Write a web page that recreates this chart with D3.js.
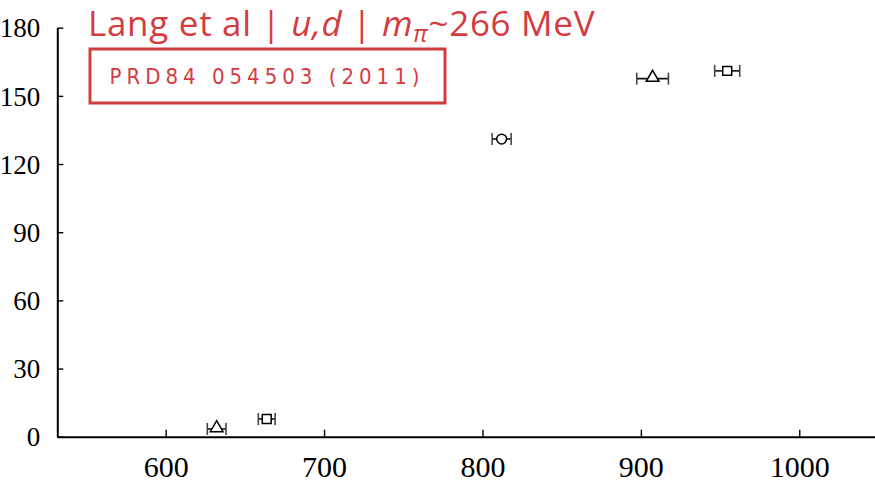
<!DOCTYPE html>
<html>
<head>
<meta charset="utf-8">
<script src="https://cdn.jsdelivr.net/npm/d3@7"></script>
<style>
  body { margin: 0; background: #fff; }
  svg { display: block; }
</style>
</head>
<body>
<svg id="chart" width="875" height="482"></svg>
<script>
// points: mass (MeV), y value, horizontal error, marker shape
const massValues = [632.2, 663.8, 812.1, 907.4, 954.5];
const yValues = [3.4, 7.8, 131, 157.6, 161];
const massErrors = [5.9, 5.3, 6.0, 10.0, 7.9];
const markerShapes = ['triangle', 'square', 'circle', 'triangle', 'square'];
const xTicks = [600, 700, 800, 900, 1000];
const yTicks = [0, 30, 60, 90, 120, 150, 180];

const red = '#d33c3f';
const svg = d3.select('#chart');

const x = d3.scaleLinear().domain([531.6, 1047.8]).range([57.3, 875]);
const y = d3.scaleLinear().domain([0, 180]).range([436.7, 27.7]);

// axes, ticks pointing inward
const xAxis = svg.append('g')
  .attr('transform', `translate(0,${y(0)})`)
  .call(d3.axisBottom(x).tickValues(xTicks).tickFormat(d3.format('d'))
    .tickSizeInner(-7).tickSizeOuter(0));
const yAxis = svg.append('g')
  .attr('transform', `translate(${x.range()[0]},0)`)
  .call(d3.axisLeft(y).tickValues(yTicks).tickSizeInner(-6).tickSizeOuter(0));

[xAxis, yAxis].forEach(g => {
  g.attr('font-size', null).attr('font-family', null);
  g.select('.domain').attr('stroke', '#000').attr('stroke-width', 2);
  g.selectAll('.tick line').attr('stroke', '#000').attr('stroke-width', 1.4);
  g.selectAll('text')
    .attr('fill', '#000')
    .style('font-family', '"Liberation Serif", serif');
});
yAxis.selectAll('text').style('font-size', '27px').attr('x', -17).attr('dy', '0.34em');
xAxis.selectAll('text').style('font-size', '30px').attr('y', 40).attr('dy', 0);

// error bars
const pts = massValues.map((m, i) => ({ m, v: yValues[i], e: massErrors[i], s: markerShapes[i] }));
const bars = svg.append('g').selectAll('g').data(pts).enter().append('g');
bars.append('line')
  .attr('x1', d => x(d.m - d.e)).attr('x2', d => x(d.m + d.e))
  .attr('y1', d => y(d.v)).attr('y2', d => y(d.v))
  .attr('stroke', '#111').attr('stroke-width', 1.6);
bars.selectAll('.cap')
  .data(d => [[d.m - d.e, d.v], [d.m + d.e, d.v]])
  .enter().append('line')
  .attr('x1', d => x(d[0])).attr('x2', d => x(d[0]))
  .attr('y1', d => y(d[1]) - 6).attr('y2', d => y(d[1]) + 6)
  .attr('stroke', '#444').attr('stroke-width', 1.6);

// markers
const symbolType = { triangle: d3.symbolTriangle, square: d3.symbolSquare, circle: d3.symbolCircle };
const symbolSize = { triangle: 70, square: 80, circle: 75 };
svg.append('g').selectAll('path').data(pts).enter().append('path')
  .attr('transform', d => `translate(${x(d.m)},${y(d.v) - (d.s === 'triangle' ? 1 : 0)})`)
  .attr('d', d => d3.symbol().type(symbolType[d.s]).size(symbolSize[d.s])())
  .attr('fill', '#fff').attr('stroke', '#000').attr('stroke-width', 1.5);

// title and reference box
const title = svg.append('text')
  .attr('x', 88).attr('y', 36)
  .attr('fill', red)
  .style('font-family', '"Open Sans", sans-serif')
  .style('font-size', '35px')
  .style('letter-spacing', '0.7px');
title.append('tspan').text('Lang et al | ');
title.append('tspan').style('font-style', 'italic').text('u,d');
title.append('tspan').text(' | ');
title.append('tspan').style('font-style', 'italic').text('m');
title.append('tspan').attr('dy', 6).style('font-size', '24px').style('font-style', 'italic').text('π');
title.append('tspan').attr('dy', -6).text('~266 MeV');

svg.append('rect')
  .attr('x', 90).attr('y', 49).attr('width', 355).attr('height', 54)
  .attr('fill', 'none').attr('stroke', red).attr('stroke-width', 3);
svg.append('text')
  .attr('x', 267).attr('y', 84)
  .attr('text-anchor', 'middle')
  .attr('fill', red)
  .style('font-family', '"DejaVu Sans Condensed", "DejaVu Sans", sans-serif')
  .style('font-size', '22px')
  .style('letter-spacing', '5px')
  .text('PRD84 054503 (2011)');
</script>
</body>
</html>
